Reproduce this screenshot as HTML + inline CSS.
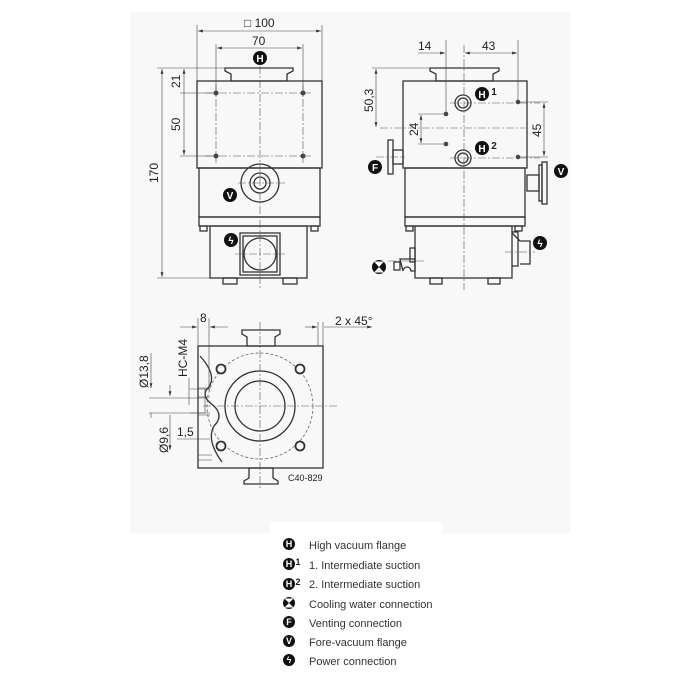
<!DOCTYPE html>
<html><head><meta charset="utf-8"><style>
html,body{margin:0;padding:0;background:#fff;width:700px;height:700px;overflow:hidden}
svg{position:absolute;left:0;top:0}
text{font-family:"Liberation Sans",sans-serif;fill:#222}
.l{fill:none;stroke:#333;stroke-width:1.3}
.t{fill:none;stroke:#444;stroke-width:0.6}
.c{fill:none;stroke:#555;stroke-width:0.6;stroke-dasharray:8 2 2 2}
.d{fill:none;stroke:#666;stroke-width:0.8;stroke-dasharray:3 2}
.b{fill:#111}
</style></head><body>
<svg width="700" height="700" viewBox="0 0 700 700">
<defs>
<marker id="a" viewBox="0 0 10 6" refX="10" refY="3" markerWidth="8" markerHeight="5" orient="auto-start-reverse"><path d="M0,0L10,3L0,6z" fill="#333"/></marker>
</defs>
<rect x="130" y="12" width="440" height="521" fill="#f8f8f8"/>
<rect x="270" y="522" width="173" height="11" fill="#fff"/>

<!-- LEFT VIEW -->
<g>
<rect class="l" x="197" y="81" width="125" height="87" fill="#f8f8f8"/>
<path class="l" d="M225,68h68v3l-6,3v7h-56v-7l-6,-3z" fill="#f8f8f8"/>
<rect class="l" x="199" y="168" width="121" height="49"/>
<rect class="l" x="199" y="217" width="121" height="9"/>
<rect class="l" x="200" y="226" width="7" height="5"/><rect class="l" x="311" y="226" width="7" height="5"/>
<rect class="l" x="210" y="226" width="97" height="52"/>
<rect class="l" x="223" y="278" width="14" height="6"/><rect class="l" x="283" y="278" width="14" height="6"/>
<rect class="l" x="240" y="233" width="40" height="42"/><rect class="l" x="243" y="236" width="34" height="36"/>
<circle class="l" cx="260" cy="254" r="16"/>
<circle class="l" cx="260" cy="183" r="19"/><circle class="l" cx="260" cy="183" r="10"/><circle class="l" cx="260" cy="183" r="6"/>
<line class="c" x1="260" y1="52" x2="260" y2="290"/>
<line class="c" x1="205" y1="93" x2="313" y2="93"/><line class="c" x1="205" y1="156" x2="313" y2="156"/>
<line class="c" x1="216" y1="85" x2="216" y2="163"/><line class="c" x1="303" y1="85" x2="303" y2="163"/>
<line class="c" x1="238" y1="183" x2="285" y2="183"/><line class="c" x1="235" y1="254" x2="285" y2="254"/>
<circle cx="216" cy="93" r="2.5" fill="#444"/><circle cx="303" cy="93" r="2.5" fill="#444"/>
<circle cx="216" cy="156" r="2.5" fill="#444"/><circle cx="303" cy="156" r="2.5" fill="#444"/>
<!-- dims -->
<line class="t" x1="197" y1="25" x2="197" y2="81"/><line class="t" x1="322" y1="25" x2="322" y2="81"/>
<line class="t" x1="198" y1="31" x2="321" y2="31" marker-start="url(#a)" marker-end="url(#a)"/>
<text x="244" y="27" font-size="12">□ 100</text>
<line class="t" x1="216" y1="44" x2="216" y2="90"/><line class="t" x1="303" y1="44" x2="303" y2="90"/>
<line class="t" x1="217" y1="48" x2="302" y2="48" marker-start="url(#a)" marker-end="url(#a)"/>
<text x="252" y="45" font-size="12">70</text>
<line class="t" x1="157" y1="68" x2="290" y2="68"/><line class="t" x1="180" y1="93" x2="214" y2="93"/>
<line class="t" x1="180" y1="156" x2="214" y2="156"/><line class="t" x1="157" y1="278" x2="210" y2="278"/>
<line class="t" x1="162" y1="69" x2="162" y2="277" marker-start="url(#a)" marker-end="url(#a)"/>
<line class="t" x1="184" y1="69" x2="184" y2="155" marker-start="url(#a)" marker-end="url(#a)"/>
<text transform="translate(158,183) rotate(-90)" font-size="12">170</text>
<text transform="translate(180,88) rotate(-90)" font-size="12">21</text>
<text transform="translate(180,131) rotate(-90)" font-size="12">50</text>
</g>

<!-- RIGHT VIEW -->
<g>
<rect class="l" x="403" y="81" width="124" height="87"/>
<path class="l" d="M430,68h69v3l-6,3v7h-57v-7l-6,-3z"/>
<rect class="l" x="405" y="168" width="120" height="49"/>
<rect class="l" x="405" y="217" width="120" height="9"/>
<rect class="l" x="406" y="226" width="7" height="5"/><rect class="l" x="515" y="226" width="7" height="5"/>
<rect class="l" x="415" y="226" width="97" height="52"/>
<rect class="l" x="430" y="278" width="12" height="6"/><rect class="l" x="488" y="278" width="12" height="6"/>
<circle class="l" cx="463" cy="103" r="8"/><circle class="l" cx="463" cy="103" r="5"/>
<circle class="l" cx="463" cy="158" r="8"/><circle class="l" cx="463" cy="158" r="5"/>
<circle cx="446" cy="114" r="2.3" fill="#444"/><circle cx="446" cy="144" r="2.3" fill="#444"/>
<circle cx="518" cy="102" r="2.3" fill="#444"/><circle cx="518" cy="157" r="2.3" fill="#444"/>
<line class="c" x1="464" y1="45" x2="464" y2="290"/>
<line class="c" x1="450" y1="103" x2="540" y2="103"/><line class="c" x1="450" y1="158" x2="540" y2="158"/>
<line class="c" x1="380" y1="128" x2="525" y2="128"/>
<line class="c" x1="376" y1="157" x2="405" y2="157"/>
<rect class="l" x="388" y="140" width="5" height="34"/><rect class="l" x="393" y="150" width="10" height="14"/>
<rect class="l" x="527" y="175" width="12" height="16"/><rect class="l" x="539" y="165" width="3" height="36"/><rect class="l" x="542" y="162" width="5" height="42"/>
<path class="l" d="M512,232h6v34h-6M512,233l8,8h10v23h-10"/>
<line class="c" x1="505" y1="252" x2="535" y2="252"/>
<rect class="l" x="410" y="248" width="5" height="14"/>
<path class="l" d="M394,262h6v8h-6zM400,259h15v12h-4a4,4 0 0,0 -8,0z"/>
<line class="c" x1="388" y1="261" x2="425" y2="261"/>
<line class="t" x1="446" y1="40" x2="446" y2="112"/><line class="t" x1="518" y1="40" x2="518" y2="100"/>
<line class="t" x1="418" y1="53" x2="445" y2="53" marker-end="url(#a)"/>
<line class="t" x1="465" y1="53" x2="517" y2="53" marker-start="url(#a)" marker-end="url(#a)"/>
<text x="418" y="50" font-size="12">14</text><text x="482" y="50" font-size="12">43</text>
<line class="t" x1="372" y1="68" x2="430" y2="68"/>
<line class="t" x1="376" y1="69" x2="376" y2="127" marker-start="url(#a)" marker-end="url(#a)"/>
<text transform="translate(373,112) rotate(-90)" font-size="12">50,3</text>
<line class="t" x1="418" y1="114" x2="445" y2="114"/><line class="t" x1="418" y1="144" x2="445" y2="144"/>
<line class="t" x1="421" y1="115" x2="421" y2="143" marker-start="url(#a)" marker-end="url(#a)"/>
<text transform="translate(418,136) rotate(-90)" font-size="12">24</text>
<line class="t" x1="520" y1="102" x2="548" y2="102"/><line class="t" x1="520" y1="157" x2="548" y2="157"/>
<line class="t" x1="544" y1="103" x2="544" y2="156" marker-start="url(#a)" marker-end="url(#a)"/>
<text transform="translate(541,137) rotate(-90)" font-size="12">45</text>
</g>

<!-- BOTTOM VIEW -->
<g>
<rect class="l" x="198" y="346" width="125" height="122"/>
<path class="l" d="M242,330h38v4l-5,3v9h-28v-9l-5,-3z"/>
<path class="l" d="M249,468h24v10l5,3v3h-34v-3l5,-3z"/>
<circle class="d" cx="260" cy="406" r="53"/>
<circle class="l" cx="260" cy="406" r="35"/><circle class="l" cx="260" cy="406" r="25"/>
<line class="c" x1="203" y1="406" x2="338" y2="406"/><line class="c" x1="260" y1="322" x2="260" y2="490"/>
<g fill="#f8f8f8" stroke="#333" stroke-width="1.8">
<circle cx="221" cy="369" r="4.5"/><circle cx="300" cy="369" r="4.5"/><circle cx="221" cy="446" r="4.5"/><circle cx="300" cy="446" r="4.5"/></g>
<path class="l" d="M200,356q18,20 8,32q-8,8 6,18q10,10 0,20q-8,14 8,36"/>
<path class="t" d="M190,389h20M190,413h20M205,389v24"/>
<path class="t" d="M198,388h12M198,397h12M198,415h12M198,455h14M198,460h14"/>
<line class="t" x1="198" y1="318" x2="198" y2="346"/><line class="t" x1="209" y1="318" x2="209" y2="390"/>
<line class="t" x1="180" y1="327" x2="197" y2="327" marker-end="url(#a)"/>
<line class="t" x1="228" y1="327" x2="210" y2="327" marker-end="url(#a)"/>
<text x="200" y="322" font-size="12">8</text>
<line class="t" x1="318" y1="322" x2="318" y2="346"/><line class="t" x1="323" y1="322" x2="323" y2="346"/>
<line class="t" x1="305" y1="327" x2="317" y2="327" marker-end="url(#a)"/>
<line class="t" x1="372" y1="327" x2="324" y2="327" marker-start="url(#a)"/>
<text x="335" y="325" font-size="12">2 x 45°</text>
<text transform="translate(187,377) rotate(-90)" font-size="12">HC-M4</text>
<line class="t" x1="189" y1="378" x2="189" y2="405" />
<text transform="translate(148,388) rotate(-90)" font-size="12">Ø13,8</text>
<line class="t" x1="151" y1="353" x2="151" y2="388" marker-end="url(#a)"/>
<line class="t" x1="151" y1="418" x2="151" y2="413"/>
<line class="t" x1="149" y1="398" x2="205" y2="398"/><line class="t" x1="149" y1="413" x2="205" y2="413"/>
<line class="t" x1="170" y1="385" x2="170" y2="396" marker-end="url(#a)"/>
<line class="t" x1="170" y1="450" x2="170" y2="415" marker-start="url(#a)"/>
<text transform="translate(168,453) rotate(-90)" font-size="12">Ø9,6</text>
<text x="177" y="436" font-size="12">1,5</text>
<line class="t" x1="177" y1="439" x2="210" y2="439"/>
<text x="288" y="481" font-size="9">C40-829</text>
</g>

<!-- BADGES -->
<g font-weight="bold" font-size="10" text-anchor="middle">
<circle class="b" cx="260" cy="58" r="7"/><text x="260" y="62" style="fill:#fff">H</text>
<circle class="b" cx="482" cy="94" r="7"/><text x="482" y="98" style="fill:#fff">H</text><text x="494" y="95" font-size="10">1</text>
<circle class="b" cx="482" cy="148" r="7"/><text x="482" y="152" style="fill:#fff">H</text><text x="494" y="149" font-size="10">2</text>
<circle class="b" cx="375" cy="167" r="7"/><text x="375" y="171" style="fill:#fff">F</text>
<circle class="b" cx="230" cy="195" r="7"/><text x="230" y="199" style="fill:#fff">V</text>
<circle class="b" cx="561" cy="171" r="7"/><text x="561" y="175" style="fill:#fff">V</text>
<circle class="b" cx="231" cy="240" r="7"/><text x="231" y="244" style="fill:#fff">ϟ</text>
<circle class="b" cx="540" cy="243" r="7"/><text x="540" y="247" style="fill:#fff">ϟ</text>
<circle class="b" cx="379" cy="267" r="7"/><path d="M374,261.5L384,261.5L379,267z M374,272.5L384,272.5L379,267z" fill="#fff"/>
</g>

<!-- LEGEND -->
<g font-size="11">
<g font-weight="bold" font-size="9" text-anchor="middle">
<circle class="b" cx="289" cy="544" r="6"/><text x="289" y="547" style="fill:#fff">H</text>
<circle class="b" cx="289" cy="564" r="6"/><text x="289" y="567" style="fill:#fff">H</text><text x="298" y="565">1</text>
<circle class="b" cx="289" cy="584" r="6"/><text x="289" y="587" style="fill:#fff">H</text><text x="298" y="585">2</text>
<circle class="b" cx="289" cy="603" r="6"/><path d="M284.5,598.5L293.5,598.5L289,603z M284.5,607.5L293.5,607.5L289,603z" fill="#fff"/>
<circle class="b" cx="289" cy="622" r="6"/><text x="289" y="625" style="fill:#fff">F</text>
<circle class="b" cx="289" cy="641" r="6"/><text x="289" y="644" style="fill:#fff">V</text>
<circle class="b" cx="289" cy="660" r="6"/><text x="289" y="663" style="fill:#fff">ϟ</text>
</g>
<text x="309" y="549" style="fill:#333">High vacuum flange</text>
<text x="309" y="569" style="fill:#333">1. Intermediate suction</text>
<text x="309" y="588" style="fill:#333">2. Intermediate suction</text>
<text x="309" y="608" style="fill:#333">Cooling water connection</text>
<text x="309" y="627" style="fill:#333">Venting connection</text>
<text x="309" y="646" style="fill:#333">Fore-vacuum flange</text>
<text x="309" y="665" style="fill:#333">Power connection</text>
</g>
</svg>
</body></html>
